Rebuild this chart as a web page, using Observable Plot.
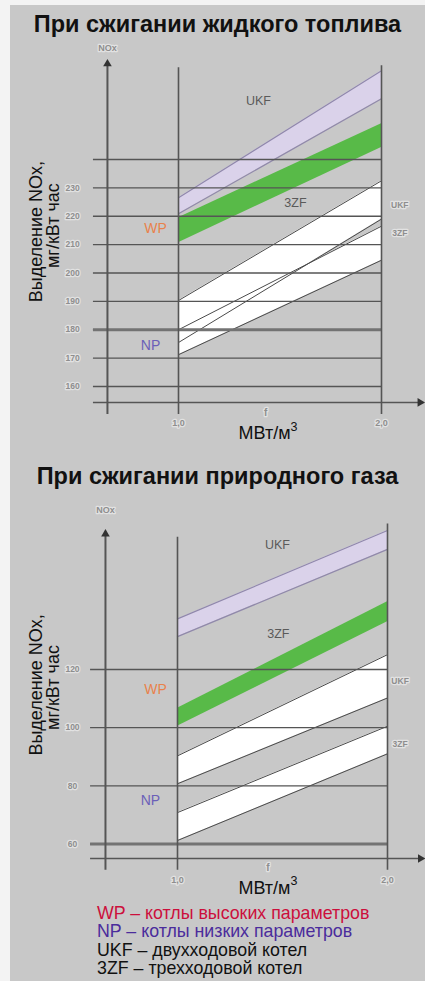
<!DOCTYPE html>
<html><head><meta charset="utf-8">
<script src="https://cdn.jsdelivr.net/npm/d3@7"></script>
<script src="https://cdn.jsdelivr.net/npm/@observablehq/plot@0.6"></script>
<style>
html,body{margin:0;padding:0;background:#f3f3f3;width:425px;height:981px;overflow:hidden;font-family:"Liberation Sans",Arial,sans-serif;}
#panel{position:absolute;left:10px;top:5px;width:415px;height:976px;background:#c8c8c8;}
.title{position:absolute;left:10px;width:415px;text-align:center;font-weight:bold;font-size:23.5px;line-height:23px;color:#111;white-space:nowrap;}
.chart{position:absolute;left:0;}
#legend{position:absolute;left:97px;top:904px;font-size:17.8px;line-height:18.3px;color:#111;white-space:nowrap;}
</style></head>
<body>
<div id="panel"></div>
<div class="title" style="top:13px">При сжигании жидкого топлива</div>
<div class="chart" id="c1" style="top:40px"></div>
<div class="title" style="top:465px">При сжигании природного газа</div>
<div class="chart" id="c2" style="top:495px"></div>
<div id="legend">
<div style="color:#cc0f3c">WP – котлы высоких параметров</div>
<div style="color:#4b2c9c">NP – котлы низких параметров</div>
<div>UKF – двухходовой котел</div>
<div>3ZF – трехходовой котел</div>
</div>
<script>
// x positions of the band ends (f, МВт/м³)
const xStops = [1.0, 2.0];
const xTickLabels = ["1,0", "2,0"];

// --- Liquid fuel (mg/kWh) ---
const oilGrid = [160, 170, 180, 190, 200, 210, 220, 230, 240];
const oilTicks = [160, 170, 180, 190, 200, 210, 220, 230];
const oilUkfWpLo = [220.9, 261.4];
const oilUkfWpHi = [226.5, 271.3];
const oil3zfWpLo = [210.7, 244.2];
const oil3zfWpHi = [219.5, 252.6];
const oilUkfNpLo = [175.5, 219.0];
const oilUkfNpHi = [190.3, 232.5];
const oil3zfNpLo = [171.2, 204.5];
const oil3zfNpHi = [180.0, 216.5];

// --- Natural gas (mg/kWh) ---
const gasGrid = [60, 80, 100, 120];
const gasTicks = [60, 80, 100, 120];
const gasUkfWpLo = [131.3, 161.3];
const gasUkfWpHi = [137.4, 167.8];
const gas3zfWpLo = [100.5, 136.4];
const gas3zfWpHi = [106.7, 143.3];
const gasUkfNpLo = [80.7, 110.2];
const gasUkfNpHi = [90.3, 125.1];
const gas3zfNpLo = [61.2, 91.0];
const gas3zfNpHi = [70.8, 100.5];

const FONT = "Liberation Sans, Arial, sans-serif";

function band(lo, hi) { return xStops.map((x, i) => ({x, lo: lo[i], hi: hi[i]})); }
function edge(v) { return xStops.map((x, i) => ({x, y: v[i]})); }

function draw(c) {
  const dark = "#555";
  const faint = {fill: "#8e8e8e", stroke: "#e2e2e2", strokeWidth: 2.5, fontSize: 8.5, fontWeight: "bold", fontFamily: FONT};
  const marks = [
    Plot.areaY(band(c.ukfWpLo, c.ukfWpHi), {x: "x", y1: "lo", y2: "hi", fill: "#dad2ea"}),
    Plot.areaY(band(c.zfWpLo, c.zfWpHi), {x: "x", y1: "lo", y2: "hi", fill: "#58ba48"}),
    Plot.areaY(band(c.ukfNpLo, c.ukfNpHi), {x: "x", y1: "lo", y2: "hi", fill: "#ffffff"}),
    Plot.areaY(band(c.zfNpLo, c.zfNpHi), {x: "x", y1: "lo", y2: "hi", fill: "#ffffff"}),
    ...[c.ukfWpLo, c.ukfWpHi].map(v => Plot.line(edge(v), {x: "x", y: "y", stroke: "#9088ab", strokeWidth: 1.2})),
    ...[c.ukfNpLo, c.ukfNpHi, c.zfNpLo, c.zfNpHi].map(v => Plot.line(edge(v), {x: "x", y: "y", stroke: "#4a4a4a", strokeWidth: 1})),
    Plot.ruleY(c.grid, {x1: c.gx0, x2: 2, stroke: dark, strokeWidth: 1.4}),
    Plot.ruleY([c.thick], {x1: c.gx0, x2: 2, stroke: "#737373", strokeWidth: 2.8}),
    Plot.ruleY([c.axisY], {x1: c.gx0, x2: c.axisEnd, stroke: dark, strokeWidth: 1.5}),
    Plot.ruleX([1], {y1: c.low, y2: c.top1, stroke: dark, strokeWidth: 1.6}),
    Plot.ruleX([2], {y1: c.low, y2: c.top2, stroke: dark, strokeWidth: 1.6}),
    Plot.ruleX([c.axisX], {y1: c.low, y2: c.tip, stroke: dark, strokeWidth: 2}),
    Plot.dot([{x: c.axisX, y: c.tip}], {x: "x", y: "y", symbol: "triangle", r: 3.2, fill: "#333", stroke: null}),
    Plot.dot([{x: c.axisEnd, y: c.axisY}], {x: "x", y: "y", symbol: "triangle", r: 3.2, fill: "#333", stroke: null, rotate: 90}),
    Plot.text(c.ticks, {x: () => c.tickX, y: d => d, text: d => String(d), ...faint}),
    Plot.text(xStops, {x: d => d, y: () => c.xLabY, text: (d, i) => xTickLabels[i], ...faint, fontSize: 9}),
    Plot.text(["f"], {x: () => c.fX, y: () => c.fY, text: d => d, ...faint, fontSize: 10}),
    Plot.text(["NOx"], {x: () => c.axisX, y: () => c.noxY, text: d => d, ...faint, fontSize: 9}),
    Plot.text(["UKF", "3ZF"], {x: () => c.rightX, y: (d, i) => c.rightY[i], text: d => d, ...faint}),
    Plot.text(["МВт/м"], {x: () => c.unitX, y: () => c.unitY, text: d => d, textAnchor: "end", fontSize: 18, fill: "#111", fontFamily: FONT}),
    Plot.text(["3"], {x: () => c.unitX, y: () => c.unitY, text: d => d, textAnchor: "start", dy: -7, fontSize: 12.5, fill: "#111", fontFamily: FONT}),
    Plot.text(["Выделение NOx,", "мг/кВт час"], {x: (d, i) => c.titleX[i], y: (d, i) => c.titleY[i], text: d => d, rotate: -90, fontSize: 18, fill: "#111", fontFamily: FONT}),
    Plot.text(["UKF", "3ZF"], {x: (d, i) => c.inX[i], y: (d, i) => c.inY[i], text: d => d, fontSize: 12.5, fill: "#5a5a5a", fontFamily: FONT}),
    Plot.text(["WP"], {x: () => c.wp[0], y: () => c.wp[1], text: d => d, fontSize: 14, fill: "#e8824c", fontFamily: FONT}),
    Plot.text(["NP"], {x: () => c.np[0], y: () => c.np[1], text: d => d, fontSize: 14, fill: "#6b60b8", fontFamily: FONT})
  ];
  return Plot.plot({
    width: 425, height: c.h, margin: 0,
    style: {background: "transparent", overflow: "visible", fontFamily: FONT},
    x: {domain: [1, 2], range: c.xr, axis: null},
    y: {domain: c.yd, range: c.yr, axis: null},
    marks
  });
}

document.getElementById("c1").append(draw({
  h: 410, xr: [178, 381], yd: [160, 240], yr: [346, 119],
  grid: oilGrid, ticks: oilTicks, thick: 180,
  ukfWpLo: oilUkfWpLo, ukfWpHi: oilUkfWpHi, zfWpLo: oil3zfWpLo, zfWpHi: oil3zfWpHi,
  ukfNpLo: oilUkfNpLo, ukfNpHi: oilUkfNpHi, zfNpLo: oil3zfNpLo, zfNpHi: oil3zfNpHi,
  gx0: 0.581, axisEnd: 2.19, axisY: 154.4, axisX: 0.65,
  low: 150.1, top1: 272.3, top2: 273, tip: 273.7,
  tickX: 0.478, xLabY: 147, fX: 1.43, fY: 150.8, noxY: 279.4,
  rightX: 2.09, rightY: [223.7, 213.9],
  unitX: 1.552, unitY: 143.4,
  titleX: [0.30, 0.384], titleY: [214.6, 216.7],
  inX: [1.394, 1.576], inY: [260.7, 224.8],
  wp: [0.887, 215.6], np: [0.862, 174.4]
}));

document.getElementById("c2").append(draw({
  h: 405, xr: [177, 387], yd: [60, 120], yr: [348.5, 174],
  grid: gasGrid, ticks: gasTicks, thick: 60,
  ukfWpLo: gasUkfWpLo, ukfWpHi: gasUkfWpHi, zfWpLo: gas3zfWpLo, zfWpHi: gas3zfWpHi,
  ukfNpLo: gasUkfNpLo, ukfNpHi: gasUkfNpHi, zfNpLo: gas3zfNpLo, zfNpHi: gas3zfNpHi,
  gx0: 0.586, axisEnd: 2.157, axisY: 55.0, axisX: 0.657,
  low: 51, top1: 165.5, top2: 170, tip: 166.6,
  tickX: 0.5, xLabY: 47.5, fX: 1.43, fY: 51.7, noxY: 174.7,
  rightX: 2.06, rightY: [115.9, 94.4],
  unitX: 1.538, unitY: 44.8,
  titleX: [0.329, 0.41], titleY: [114.7, 113.8],
  inX: [1.476, 1.48], inY: [162.8, 132.3],
  wp: [0.895, 113.2], np: [0.871, 74.9]
}));
</script>
</body></html>
